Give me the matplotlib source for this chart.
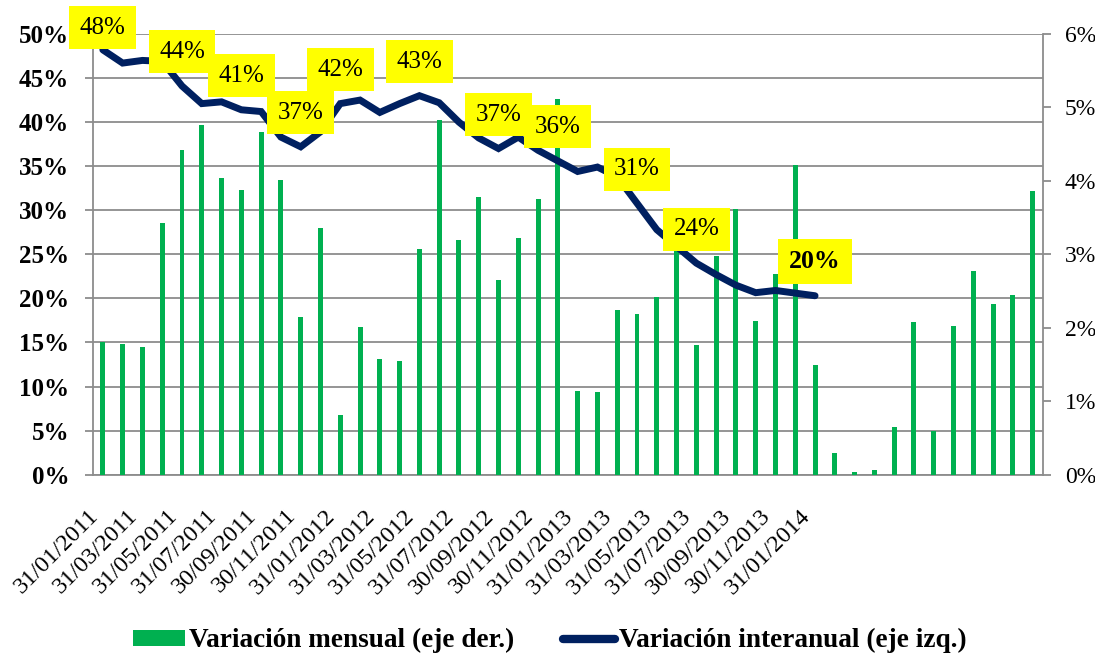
import matplotlib
matplotlib.use("Agg")
import matplotlib.pyplot as plt
from matplotlib.lines import Line2D
from matplotlib.patches import Patch
from matplotlib.transforms import ScaledTranslation
import numpy as np

# ---------------- data ----------------
tick_labels = ["31/01/2011", "31/03/2011", "31/05/2011", "31/07/2011", "30/09/2011",
               "30/11/2011", "31/01/2012", "31/03/2012", "31/05/2012", "31/07/2012",
               "30/09/2012", "30/11/2012", "31/01/2013", "31/03/2013", "31/05/2013",
               "31/07/2013", "30/09/2013", "30/11/2013", "31/01/2014"]

# monthly variation (right axis, %), 48 months
mensual = [1.80, 1.78, 1.74, 3.43, 4.42, 4.76, 4.04, 3.88, 4.67, 4.01, 2.15, 3.36,
           0.81, 2.01, 1.58, 1.55, 3.07, 4.83, 3.20, 3.78, 2.65, 3.22, 3.75, 5.11,
           1.14, 1.13, 2.24, 2.19, 2.42, 3.06, 1.77, 2.98, 3.62, 2.09, 2.73, 4.22,
           1.49, 0.29, 0.04, 0.06, 0.65, 2.08, 0.60, 2.02, 2.77, 2.32, 2.45, 3.86]

# year-on-year variation (left axis, %), 37 months
interanual = [48.2, 46.7, 47.0, 46.9, 44.1, 42.1, 42.3, 41.4, 41.2, 38.3, 37.2, 38.9,
              42.1, 42.5, 41.1, 42.1, 43.0, 42.2, 40.0, 38.2, 37.0, 38.3, 36.8, 35.6,
              34.4, 34.9, 33.8, 30.8, 27.8, 25.9, 24.0, 22.7, 21.5, 20.65, 20.9, 20.6,
              20.3]

# indices of the labelled points
label_idx = [0, 4, 7, 10, 12, 16, 20, 23, 27, 30, 36]

# ---------------- style ----------------
SERIF = ["Liberation Serif", "DejaVu Serif"]
plt.rcParams["font.family"] = SERIF
GREEN = "#00B050"
NAVY = "#002060"
GRID = "#8C8C8C"

fig = plt.figure(figsize=(10.95, 6.56), dpi=100)
ax = fig.add_axes([0.0849, 0.2764, 0.8672, 0.6718])
ax_bar = ax.twinx()
ax_line = ax.twinx()

x_bar = np.arange(len(mensual))
x_line = np.arange(len(interanual))

# grid + left axis
ax.set_xlim(-0.5, len(mensual) - 0.5)
ax.set_ylim(0, 50)
ax.set_yticks(np.arange(0, 51, 5))
ax.set_yticklabels([f"{v}%" for v in range(0, 51, 5)], fontsize=18, fontweight="bold")
ax.yaxis.grid(True, color=GRID, linewidth=1.3)
ax.set_axisbelow(True)
ax.tick_params(axis="y", length=6, width=1.3, color=GRID, pad=11)
for s in ["top", "right"]:
    ax.spines[s].set_visible(False)
for s in ["left", "bottom"]:
    ax.spines[s].set_color(GRID)
    ax.spines[s].set_linewidth(1.3)

ax.set_xticks(np.arange(0, len(tick_labels) * 2, 2))
ax.set_xticklabels(tick_labels, rotation=45, ha="right", va="center",
                   rotation_mode="anchor", fontsize=17.5)
ax.tick_params(axis="x", length=0, pad=18)
shift = ScaledTranslation(-8 / 100, -13 / 100, fig.dpi_scale_trans)
for lab in ax.get_xticklabels():
    lab.set_transform(lab.get_transform() + shift)

# bars, right axis
ax_bar.bar(x_bar, mensual, width=0.25, color=GREEN, zorder=2)
ax_bar.set_ylim(0, 6)
ax_bar.set_yticks(np.arange(0, 7, 1))
ax_bar.set_yticklabels([f"{v}%" for v in range(0, 7)], fontsize=17)
ax_bar.tick_params(axis="y", length=6, width=1.3, color=GRID, pad=10)
for s in ["top", "left", "bottom"]:
    ax_bar.spines[s].set_visible(False)
ax_bar.spines["right"].set_color(GRID)
ax_bar.spines["right"].set_linewidth(1.3)

# line, top layer
ax_line.plot(x_line, interanual, color=NAVY, linewidth=5, solid_capstyle="round",
             solid_joinstyle="miter", zorder=3)
ax_line.set_ylim(0, 50)
ax_line.set_yticks([])
for s in ax_line.spines.values():
    s.set_visible(False)

for i in label_idx:
    v = interanual[i]
    last = (i == label_idx[-1])
    dy = 16 if i == 0 else 24.5
    ax_line.annotate(f"{round(v)}%", xy=(x_line[i], v), xytext=(0, dy),
                     textcoords="offset points", ha="center", va="center",
                     fontsize=18.5 if last else 18,
                     fontweight="bold" if last else "normal",
                     bbox=dict(boxstyle="square,pad=0.42", fc="#FFFF00", ec="none"),
                     zorder=5, annotation_clip=False)

handles = [Patch(facecolor=GREEN, edgecolor="none"),
           Line2D([0], [0], color=NAVY, linewidth=6, solid_capstyle="round")]
fig.legend(handles, ["Variación mensual (eje der.)", "Variación interanual (eje izq.)"],
           loc="center", bbox_to_anchor=(0.502, 0.023), ncol=2, frameon=False,
           prop=dict(family=SERIF, weight="bold", size=19.6),
           handlelength=1.9, handleheight=0.5, handletextpad=0.15, columnspacing=1.8)

fig.savefig("out.png", dpi=100)
